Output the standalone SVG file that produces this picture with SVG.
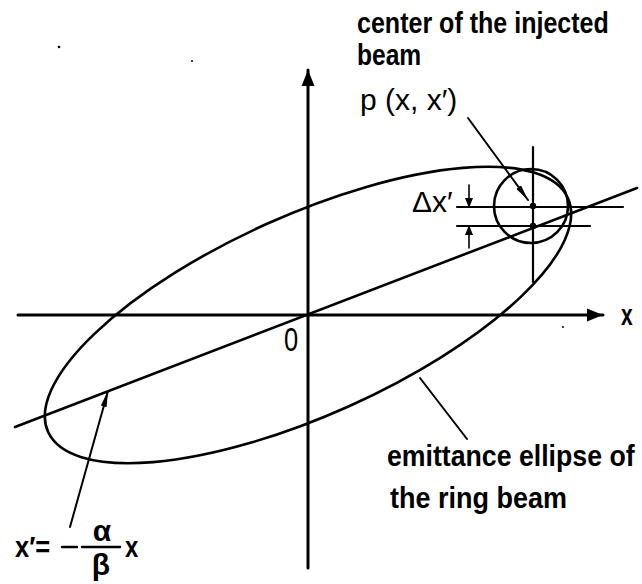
<svg xmlns="http://www.w3.org/2000/svg" width="642" height="584" viewBox="0 0 642 584">
<style>
.ln{stroke:#000;fill:none;stroke-linecap:round}
.t{font-family:"Liberation Sans","DejaVu Sans",sans-serif;fill:#000;font-size:30px;font-weight:bold}
.n{font-weight:normal}
</style>
<defs>
<marker id="ah" markerWidth="10" markerHeight="10" refX="9" refY="5" orient="auto" markerUnits="userSpaceOnUse" viewBox="0 0 10 10">
<path d="M0,1 L10,5 L0,9 Z" fill="#000"/>
</marker>
<marker id="ahs" markerWidth="16" markerHeight="8" refX="16" refY="4" orient="auto" markerUnits="userSpaceOnUse" viewBox="0 0 16 8">
<path d="M0,1 L16,4 L0,7 Z" fill="#000"/>
</marker>
<marker id="axa" markerWidth="16" markerHeight="14" refX="16" refY="7" orient="auto" markerUnits="userSpaceOnUse" viewBox="0 0 16 14">
<path d="M0,0.5 L16,7 L0,13.5 Z" fill="#000"/>
</marker>
</defs>
<rect width="642" height="584" fill="#fff"/>
<g id="axes">
<line class="ln" x1="18" y1="315" x2="603" y2="315" stroke-width="3" marker-end="url(#axa)"/>
<line class="ln" x1="308" y1="568" x2="308" y2="70" stroke-width="3" marker-end="url(#axa)"/>
<text class="t" transform="translate(621,325) scale(0.7,1)" x="0" y="0">x</text>
<text class="t n" transform="translate(284,351) scale(0.85,1.1)" x="0" y="0">0</text>
</g>
<g id="ellipse">
<ellipse class="ln" cx="308" cy="315" rx="285" ry="100" stroke-width="2.6" transform="rotate(-24.2 308 315)"/>
</g>
<g id="line">
<line class="ln" x1="15" y1="427" x2="637" y2="188" stroke-width="2.6"/>
</g>
<g id="injected">
<circle class="ln" cx="531" cy="206" r="37" stroke-width="2.6"/>
<line class="ln" x1="533" y1="147" x2="533" y2="282" stroke-width="2.2"/>
<line class="ln" x1="457" y1="207" x2="623" y2="207" stroke-width="2.2"/>
<line class="ln" x1="457" y1="226" x2="590" y2="226" stroke-width="2.2"/>
<circle cx="533" cy="206" r="3.2" fill="#000"/>
<circle cx="533" cy="226" r="3.2" fill="#000"/>
<text class="t n" x="412" y="212" font-size="22">Δx′</text>
</g>
<g id="connectors">
<line class="ln" x1="469" y1="185" x2="469" y2="207" stroke-width="1.6" marker-end="url(#ah)"/>
<line class="ln" x1="469" y1="248" x2="469" y2="226" stroke-width="1.6" marker-end="url(#ah)"/>
<line class="ln" x1="468" y1="118" x2="528" y2="200" stroke-width="2" marker-end="url(#ahs)"/>
<line class="ln" x1="70" y1="527" x2="108" y2="391" stroke-width="2" marker-end="url(#ahs)"/>
<line class="ln" x1="420" y1="378" x2="467" y2="439" stroke-width="2"/>
</g>
<g id="label-center">
<text class="t" transform="translate(357,33) scale(0.835,1)" x="0" y="0" font-size="27">center of the injected</text>
<text class="t" transform="translate(357,65) scale(0.82,1)" x="0" y="0" font-size="27">beam</text>
<text class="t n" x="360" y="110">p (x, x′)</text>
</g>
<g id="label-ellipse">
<text class="t" transform="translate(387,466) scale(0.89,1)" x="0" y="0">emittance ellipse of</text>
<text class="t" transform="translate(390,508) scale(0.9,1)" x="0" y="0">the ring beam</text>
</g>
<g id="label-formula">
<text class="t" transform="translate(15,557) scale(0.85,1)" x="0" y="0" font-size="27">x′=</text>
<line class="ln" x1="62" y1="547" x2="77" y2="547" stroke-width="2.4"/>
<line class="ln" x1="82" y1="547" x2="120" y2="547" stroke-width="2.4"/>
<text class="t" x="102" y="541" font-size="26" text-anchor="middle">α</text>
<text class="t" x="101" y="575" font-size="26" text-anchor="middle">β</text>
<text class="t" transform="translate(125,557) scale(0.8,1)" x="0" y="0" font-size="27">x</text>
</g>
<g id="specks">
<circle cx="59" cy="47" r="1.3" fill="#000"/>
<circle cx="192" cy="61" r="1" fill="#000"/>
<circle cx="563" cy="327" r="1" fill="#000"/>
</g>
</svg>
